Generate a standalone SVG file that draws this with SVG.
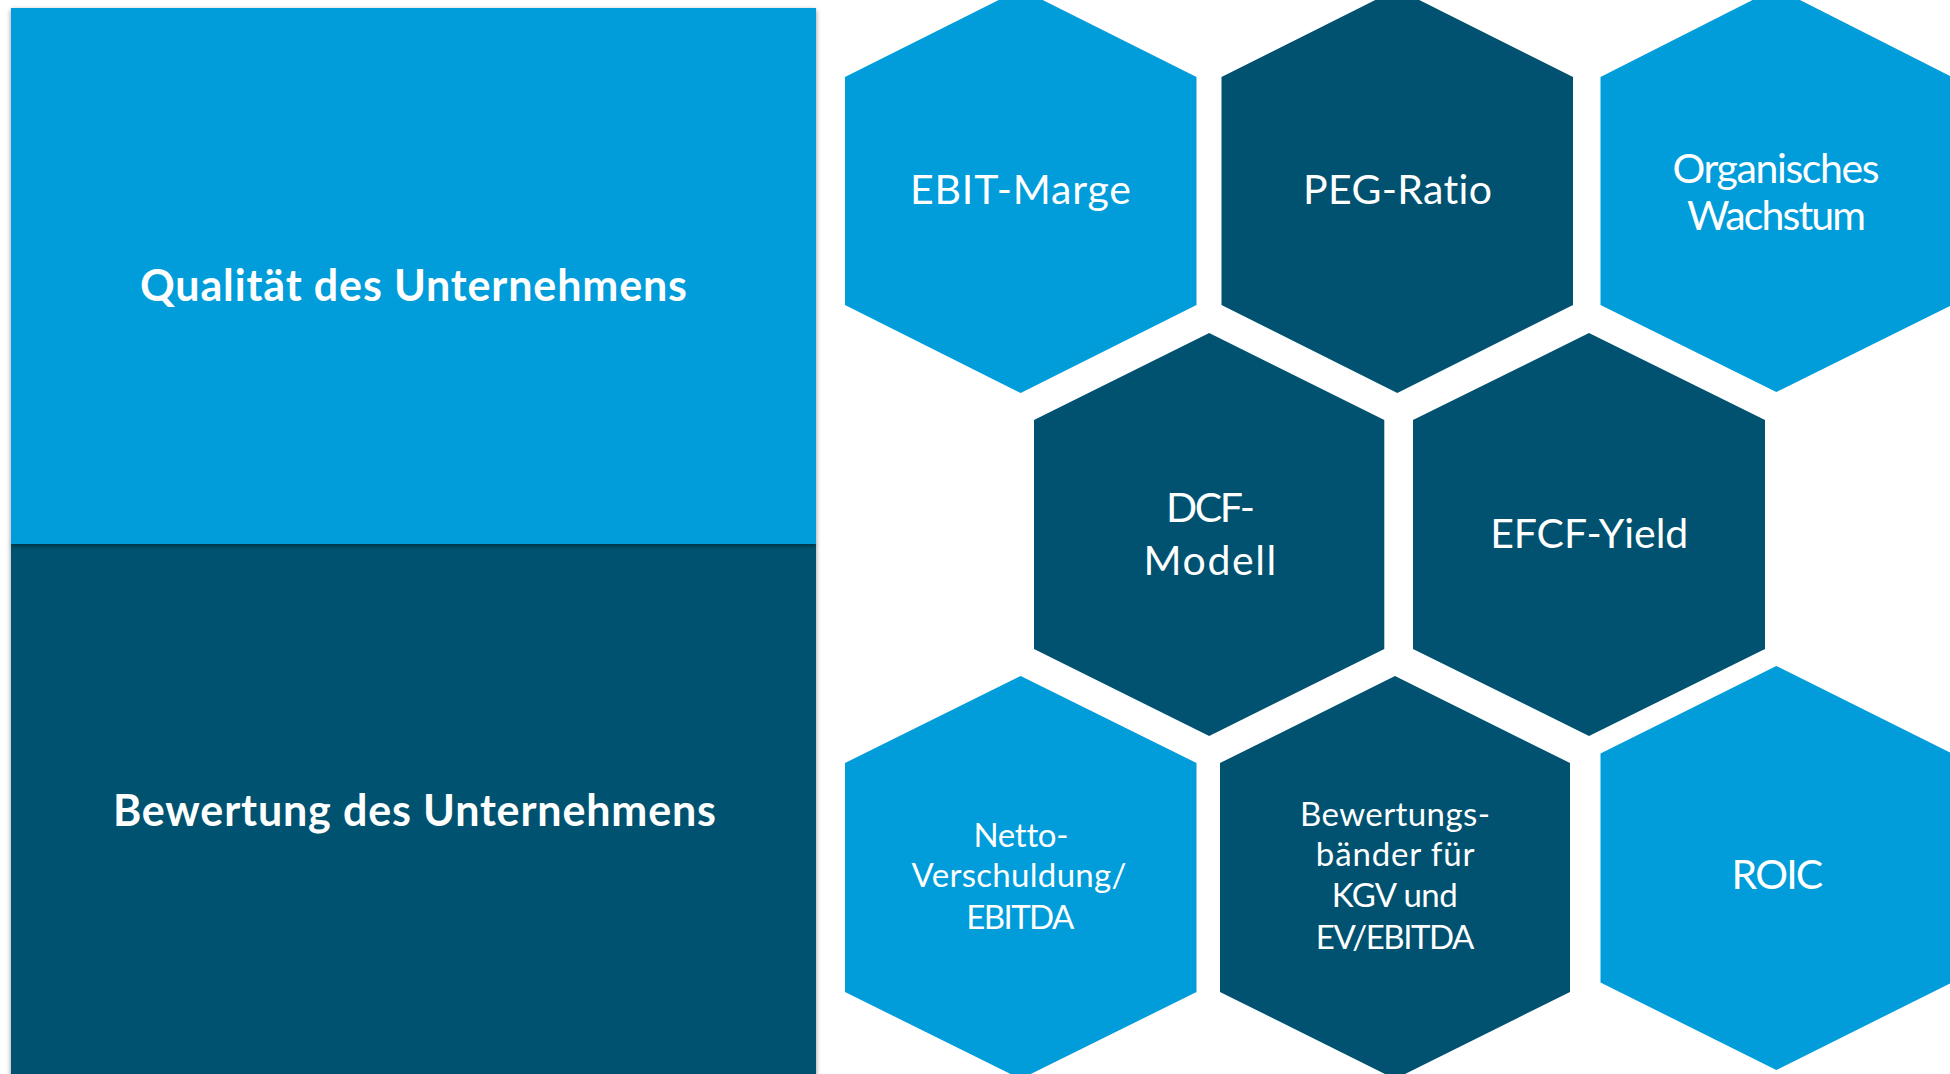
<svg xmlns="http://www.w3.org/2000/svg" width="1950" height="1074" viewBox="0 0 1950 1074">
<defs>
<filter id="sh" x="-5%" y="-5%" width="110%" height="110%">
<feGaussianBlur in="SourceAlpha" stdDeviation="2.5"/>
<feOffset dx="0" dy="2" result="b"/>
<feComponentTransfer><feFuncA type="linear" slope="0.45"/></feComponentTransfer>
<feMerge><feMergeNode/><feMergeNode in="SourceGraphic"/></feMerge>
</filter>
<style>
.light{fill:#009DDA}
.dark{fill:#005270}
.t{font-family:Lato,"Open Sans","Liberation Sans",sans-serif;fill:#FFFFFF;font-variant-ligatures:none}
.big{font-size:41px}
.small{font-size:33px}
.title{font-size:43px;font-weight:bold}
</style>
</defs>
<rect width="1950" height="1074" fill="#FFFFFF"/>

<g id="panel-bewertung">
<rect x="11" y="543" width="805" height="540" class="dark" filter="url(#sh)"/>
<text class="t title" x="113" y="826" textLength="603">Bewertung des Unternehmens</text>
</g>
<g id="panel-qualitaet">
<rect x="11" y="8" width="805" height="536" class="light" filter="url(#sh)"/>
<text class="t title" x="140" y="301" textLength="547">Qualität des Unternehmens</text>
</g>

<g id="hex-ebit">
<polygon class="light" points="1020.7,-11 1196.5,77 1196.5,305 1020.7,393 845,305 845,77"/>
<text class="t big" x="910" y="204" textLength="221">EBIT-Marge</text>
</g>
<g id="hex-peg">
<polygon class="dark" points="1397.3,-11 1573,77 1573,305 1397.3,393 1221.5,305 1221.5,77"/>
<text class="t big" x="1303" y="204" textLength="189">PEG-Ratio</text>
</g>
<g id="hex-organisch">
<polygon class="light" points="1776.3,-12 1952,77 1952,305 1776.3,392 1600.5,305 1600.5,77"/>
<text class="t big" x="1672.5" y="183" textLength="207">Organisches</text>
<text class="t big" x="1687" y="229.5" textLength="179">Wachstum</text>
</g>
<g id="hex-dcf">
<polygon class="dark" points="1209.2,333 1384.3,420 1384.3,649 1209.2,736 1034,649 1034,420"/>
<text class="t big" x="1166" y="521.7" textLength="89">DCF-</text>
<text class="t big" x="1143.6" y="575" textLength="132.6">Modell</text>
</g>
<g id="hex-efcf">
<polygon class="dark" points="1589,333 1765,420 1765,649 1589,736 1413,649 1413,420"/>
<text class="t big" x="1490.2" y="547.7" textLength="198">EFCF-Yield</text>
</g>
<g id="hex-netto">
<polygon class="light" points="1020.7,676 1196.5,763 1196.5,992 1020.7,1079 845,992 845,763"/>
<text class="t small" x="973.5" y="847.3" textLength="95">Netto-</text>
<text class="t small" x="911.5" y="887.3" textLength="215">Verschuldung/</text>
<text class="t small" x="966.3" y="929" textLength="108">EBITDA</text>
</g>
<g id="hex-baender">
<polygon class="dark" points="1395,676 1570,763 1570,992 1395,1079 1220,992 1220,763"/>
<text class="t small" x="1300" y="825.7" textLength="190">Bewertungs-</text>
<text class="t small" x="1315.8" y="866.3" textLength="158.6">bänder für</text>
<text class="t small" x="1331.7" y="907.3" textLength="126">KGV und</text>
<text class="t small" x="1315.8" y="949" textLength="158.6">EV/EBITDA</text>
</g>
<g id="hex-roic">
<polygon class="light" points="1776.3,666 1952,753.5 1952,982.5 1776.3,1070 1600.5,982.5 1600.5,753.5"/>
<text class="t big" x="1731.6" y="889" textLength="91.6">ROIC</text>
</g>
<g id="connectors"/>
</svg>
